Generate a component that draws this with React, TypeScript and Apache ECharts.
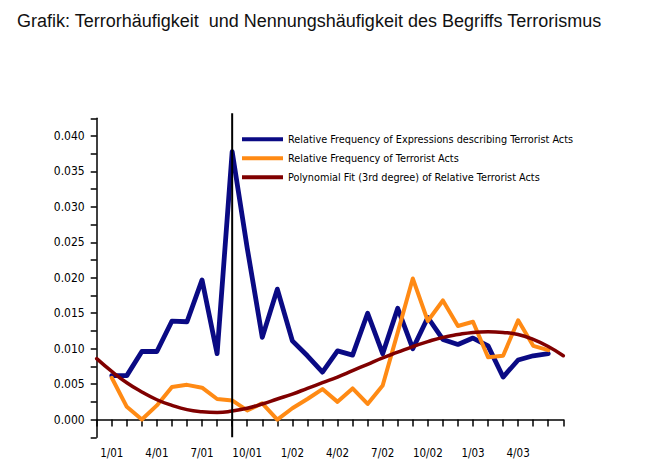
import React, { useEffect, useRef } from "react";
import * as echarts from "echarts";

const titleText =
  "Grafik: Terrorhäufigkeit  und Nennungshäufigkeit des Begriffs Terrorismus";

const months = [
  "12/00", "1/01", "2/01", "3/01", "4/01", "5/01", "6/01", "7/01", "8/01", "9/01",
  "10/01", "11/01", "12/01", "1/02", "2/02", "3/02", "4/02", "5/02", "6/02", "7/02",
  "8/02", "9/02", "10/02", "11/02", "12/02", "1/03", "2/03", "3/03", "4/03", "5/03",
  "6/03", "7/03",
];

const seriesNames = [
  "Relative Frequency of Expressions describing Terrorist Acts",
  "Relative Frequency of Terrorist Acts",
  "Polynomial Fit (3rd degree) of Relative Terrorist Acts",
];

const expressions = [
  null, 0.0062, 0.0062, 0.0096, 0.0096, 0.0139, 0.0138, 0.0197, 0.0093, 0.0378,
  0.0242, 0.0116, 0.0184, 0.0111, 0.009, 0.0067, 0.0097, 0.0091, 0.015, 0.0093,
  0.0157, 0.01, 0.0144, 0.0113, 0.0106, 0.0115, 0.0104, 0.006, 0.0084, 0.009,
  0.0093, null,
];

const terrorActs = [
  null, 0.0059, 0.0018, 0.0, 0.002, 0.0046, 0.0049, 0.0045, 0.0029, 0.0027,
  0.0013, 0.0023, 0.0, 0.0016, 0.0029, 0.0043, 0.0025, 0.0044, 0.0022, 0.0048,
  0.0123, 0.0199, 0.0139, 0.0168, 0.0132, 0.0138, 0.0088, 0.009, 0.014, 0.0104,
  0.0098, null,
];

const polyFit = [
  0.0086, 0.0068, 0.0052, 0.0039, 0.0028, 0.002, 0.0014, 0.0011, 0.001, 0.0012,
  0.0016, 0.0022, 0.0029, 0.0036, 0.0044, 0.0052, 0.006, 0.0069, 0.0078, 0.0087,
  0.0095, 0.0103, 0.011, 0.0116, 0.012, 0.0123, 0.0124, 0.0123, 0.012, 0.0113,
  0.0103, 0.009,
];

const markerMonth = "9/01";
const yMin = -0.0025;
const yMax = 0.0425;
const yStep = 0.0025;

const colors = ["#0A0A84", "#FF8A14", "#800000"];
const widths = [4.8, 4, 3.5];
const tickFont = "'DejaVu Sans Condensed', 'DejaVu Sans', sans-serif";

export default function App() {
  const ref = useRef<HTMLDivElement>(null);
  useEffect(() => {
    if (!ref.current) return;
    const chart = echarts.init(ref.current, null, { renderer: "svg" });
    const datasets = [expressions, terrorActs, polyFit];
    chart.setOption({
      animation: false,
      backgroundColor: "#ffffff",
      title: {
        text: titleText,
        left: 12,
        top: 6.5,
        textStyle: {
          fontFamily: "'Liberation Sans', Arial, sans-serif",
          fontSize: 18,
          fontWeight: "normal",
          color: "#111111",
        },
      },
      legend: {
        orient: "vertical",
        left: 237,
        top: 128.3,
        icon: "rect",
        itemWidth: 41,
        itemHeight: 4,
        itemGap: 7,
        textStyle: {
          fontFamily: tickFont,
          fontSize: 10.8,
          color: "#000000",
          lineHeight: 12,
        },
        data: seriesNames.map((n, i) => ({ name: n, itemStyle: { color: colors[i] } })),
      },
      grid: { left: 96.7, top: 118.3, right: 92.7, bottom: 37.7, containLabel: false },
      xAxis: {
        type: "category",
        data: months,
        boundaryGap: false,
        axisLine: { lineStyle: { color: "#000000", width: 1.5 } },
        axisTick: { show: true, interval: 0, length: 7, lineStyle: { color: "#000000", width: 1.5 } },
        axisLabel: {
          interval: (idx: number) => idx % 3 === 1 && idx < months.length - 1,
          margin: 10,
          fontFamily: tickFont,
          fontSize: 11.5,
          color: "#000000",
        },
        splitLine: { show: false },
      },
      yAxis: {
        type: "value",
        min: yMin,
        max: yMax,
        interval: yStep,
        axisLine: { show: true, lineStyle: { color: "#000000", width: 1.5 } },
        axisTick: { show: true, length: 6, lineStyle: { color: "#000000", width: 1.5 } },
        axisLabel: {
          margin: 12,
          fontFamily: tickFont,
          fontSize: 12,
          color: "#000000",
          formatter: (v: number) => {
            const k = Math.round(v / yStep);
            return k % 2 === 0 ? v.toFixed(3) : "";
          },
        },
        splitLine: { show: false },
      },
      series: datasets.map((d, i) => ({
        name: seriesNames[i],
        type: "line",
        data: d,
        symbol: "none",
        smooth: i === 2 ? 0.5 : false,
        connectNulls: false,
        clip: false,
        lineStyle: { color: colors[i], width: widths[i], join: "round", cap: "round" },
        itemStyle: { color: colors[i] },
        z: 3 + i,
      })),
    });
    const mIdx = months.indexOf(markerMonth);
    const pTop = chart.convertToPixel({ gridIndex: 0 }, [mIdx, yMax]) as number[];
    const pBot = chart.convertToPixel({ gridIndex: 0 }, [mIdx, yMin]) as number[];
    chart.setOption({
      graphic: [
        {
          type: "line",
          z: 100,
          silent: true,
          shape: { x1: pBot[0], y1: pTop[1] - 5, x2: pBot[0], y2: pBot[1] },
          style: { stroke: "#000000", lineWidth: 2 },
        },
      ],
    });
    return () => chart.dispose();
  }, []);
  return (
    <div
      ref={ref}
      style={{ position: "fixed", left: 0, top: 0, width: 656, height: 475 }}
    />
  );
}
